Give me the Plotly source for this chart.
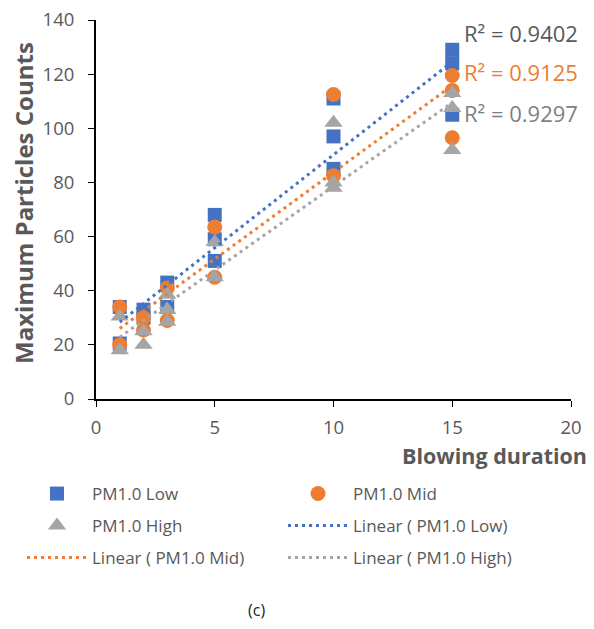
import numpy as np
import plotly.graph_objects as go

# ---- data ----
low_x = [1, 1, 2, 2, 3, 3, 5, 5, 5, 10, 10, 10, 15, 15, 15]
low_y = [34, 20.5, 33, 30, 43, 34, 68, 59, 51, 111, 97, 85, 129, 124, 105]
mid_x = [1, 1, 2, 2, 3, 3, 5, 5, 10, 10, 15, 15, 15]
mid_y = [34, 20, 30, 25.5, 41, 29, 63.5, 45, 112.5, 82.5, 119.5, 114, 96.5]
high_x = [1, 1, 2, 2, 3, 3, 3, 5, 5, 10, 10, 10, 15, 15, 15]
high_y = [30.5, 18, 25, 20, 38.5, 33, 28.5, 58, 45, 102, 80, 78, 113, 107.5, 92]
r2_labels = ["R² = 0.9402", "R² = 0.9125", "R² = 0.9297"]
names = ["PM1.0 Low", "PM1.0 Mid", "PM1.0 High"]

BLUE, ORANGE, GREY = "#4472C4", "#ED7D31", "#A5A5A5"
TXT = "#595959"
FONT = "Open Sans"

W, H = 586, 621  # page body has an 8px margin inside the 594x629 window

series = [
    (low_x, low_y, BLUE, "square", 14),
    (mid_x, mid_y, ORANGE, "circle", 15),
    (high_x, high_y, GREY, "triangle-up", 16),
]

# one legend per entry, laid out in Excel's two-column order
marker_legends = ["legend", "legend2", "legend3"]
line_legends = ["legend4", "legend5", "legend6"]

fig = go.Figure()
for (xs, ys, col, sym, sz), nm, lg in zip(series, names, marker_legends):
    fig.add_trace(go.Scatter(x=xs, y=ys, mode="markers", name=nm, legend=lg,
                             marker=dict(color=col, symbol=sym, size=sz)))
for (xs, ys, col, sym, sz), nm, lg in zip(series, names, line_legends):
    k, b = np.polyfit(xs, ys, 1)
    xl = np.array([min(xs), max(xs)])
    fig.add_trace(go.Scatter(x=xl, y=k * xl + b, mode="lines", legend=lg,
                             name="Linear ( " + nm + ")",
                             line=dict(color=col, width=3, dash="3px,4px")))

ann_y = [0.9657, 0.8628, 0.7546]
ann_c = [TXT, ORANGE, "#7F7F7F"]
for t, yy, c in zip(r2_labels, ann_y, ann_c):
    fig.add_annotation(text=t, xref="paper", yref="paper", x=0.7705, y=yy,
                       xanchor="left", yanchor="middle", showarrow=False,
                       font=dict(size=22, color=c, family=FONT))

fig.add_annotation(text="(c)", xref="paper", yref="paper", x=0.337, y=-0.557,
                   xanchor="center", yanchor="middle", showarrow=False,
                   font=dict(size=16, color="#222222", family=FONT))
fig.add_annotation(text="<b>Blowing duration</b>", xref="paper", yref="paper",
                   x=0.838, y=-0.148, xanchor="center", yanchor="middle",
                   showarrow=False, font=dict(size=21.5, color=TXT, family=FONT))
fig.add_annotation(text="<b>Maximum Particles Counts</b>", xref="paper", yref="paper",
                   x=-0.154, y=0.517, xanchor="center", yanchor="middle",
                   textangle=-90, showarrow=False,
                   font=dict(size=24, color=TXT, family=FONT))

axis_common = dict(showgrid=False, zeroline=False, showline=True, linecolor="black",
                   linewidth=2, ticks="outside", ticklen=6, tickcolor="black",
                   automargin=False, ticklabeloverflow="allow",
                   tickfont=dict(size=18.5, color=TXT, family=FONT))
fig.update_xaxes(range=[0, 20], dtick=5, ticklabelstandoff=5, **axis_common)
fig.update_yaxes(range=[0, 140], dtick=20, ticklabelstandoff=10, **axis_common)

def leg(px, py):
    return dict(xref="container", yref="container",
                x=px / W, y=1 - py / H, xanchor="left", yanchor="middle",
                itemwidth=60, font=dict(size=17, color=TXT, family=FONT),
                bgcolor="rgba(0,0,0,0)")

col_x = [14, 275]
row_y = [486, 518, 550]
fig.update_layout(
    width=W, height=H,
    margin=dict(l=88, r=23, t=12, b=230, autoexpand=False),
    plot_bgcolor="white", paper_bgcolor="white",
    font=dict(family=FONT, color=TXT),
    legend=leg(col_x[0], row_y[0]),
    legend2=leg(col_x[1], row_y[0]),
    legend3=leg(col_x[0], row_y[1]),
    legend4=leg(col_x[1], row_y[1]),
    legend5=leg(col_x[0], row_y[2]),
    legend6=leg(col_x[1], row_y[2]),
    showlegend=True,
)
fig.write_html("out.html")
